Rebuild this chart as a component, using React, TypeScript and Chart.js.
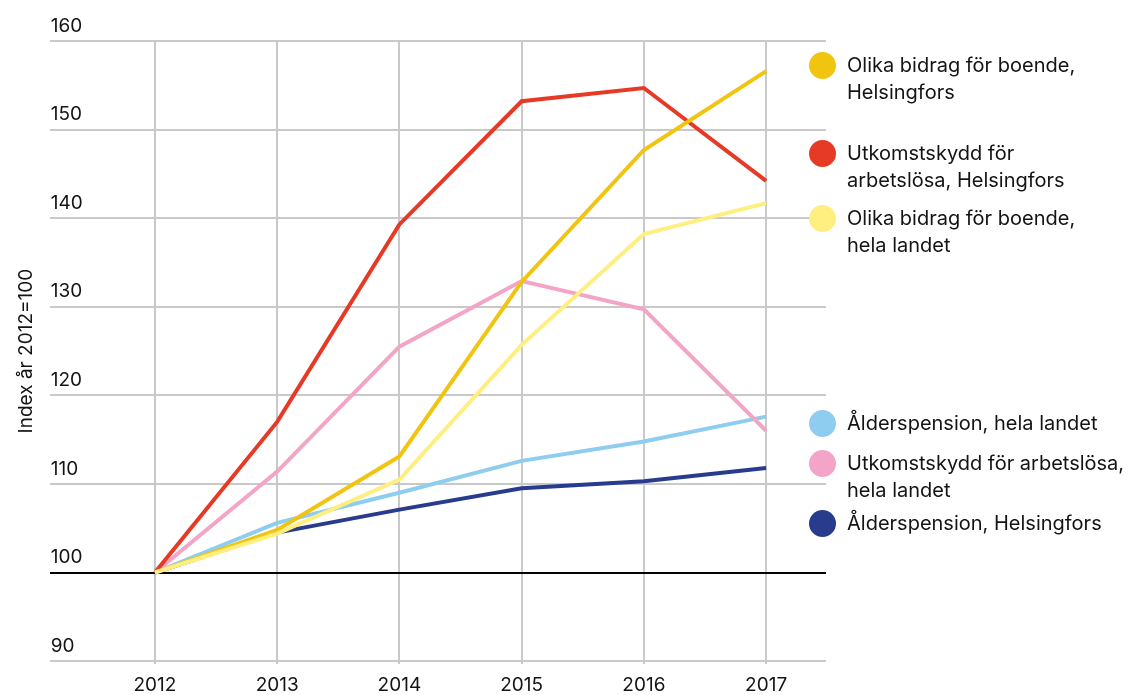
import React, { useEffect, useRef } from "react";
import { Chart, registerables } from "chart.js";

Chart.register(...registerables);

const years = [2012, 2013, 2014, 2015, 2016, 2017];
const yTicks = [90, 100, 110, 120, 130, 140, 150, 160];

const bidragHelsingfors = [100, 104.8, 113.1, 132.8, 147.7, 156.6];
const utkomstHelsingfors = [100, 117.0, 139.3, 153.2, 154.7, 144.2];
const bidragHelaLandet = [100, 104.4, 110.5, 125.7, 138.2, 141.7];
const alderHelaLandet = [100, 105.6, 109.0, 112.6, 114.8, 117.6];
const utkomstHelaLandet = [100, 111.4, 125.5, 132.9, 129.7, 116.0];
const alderHelsingfors = [100, 104.5, 107.1, 109.5, 110.3, 111.8];

const FONT = "Inter, 'Noto Sans', sans-serif";
const TEXT = "#141414";

const series = [
  { label: "Olika bidrag för boende, Helsingfors", lines: ["Olika bidrag för boende,", "Helsingfors"], data: bidragHelsingfors, color: "#F1C40F", order: 2, legendY: 65 },
  { label: "Utkomstskydd för arbetslösa, Helsingfors", lines: ["Utkomstskydd för", "arbetslösa, Helsingfors"], data: utkomstHelsingfors, color: "#E63A27", order: 3, legendY: 153 },
  { label: "Olika bidrag för boende, hela landet", lines: ["Olika bidrag för boende,", "hela landet"], data: bidragHelaLandet, color: "#FFEE80", order: 1, legendY: 218 },
  { label: "Ålderspension, hela landet", lines: ["Ålderspension, hela landet"], data: alderHelaLandet, color: "#8ECDEF", order: 5, legendY: 423 },
  { label: "Utkomstskydd för arbetslösa, hela landet", lines: ["Utkomstskydd för arbetslösa,", "hela landet"], data: utkomstHelaLandet, color: "#F3A5C8", order: 4, legendY: 463 },
  { label: "Ålderspension, Helsingfors", lines: ["Ålderspension, Helsingfors"], data: alderHelsingfors, color: "#283B8D", order: 6, legendY: 523 },
];

export default function App() {
  const canvasRef = useRef<HTMLCanvasElement | null>(null);

  useEffect(() => {
    if (!canvasRef.current) return;
    const chart = new Chart(canvasRef.current, {
      type: "line",
      data: {
        datasets: series.map((s) => ({
          label: s.label,
          data: s.data.map((v, i) => ({ x: years[i], y: v })),
          borderColor: s.color,
          backgroundColor: s.color,
          borderWidth: 4,
          pointRadius: 0,
          tension: 0,
          order: s.order,
          borderCapStyle: "butt" as const,
          borderJoinStyle: "miter" as const,
        })),
      },
      options: {
        animation: false,
        responsive: false,
        maintainAspectRatio: false,
        layout: { padding: { left: 15, top: 41, right: 314, bottom: 0 } },
        plugins: { legend: { display: false }, tooltip: { enabled: false } },
        scales: {
          x: {
            type: "linear",
            min: 2011.14,
            max: 2017.49,
            afterBuildTicks: (scale: any) => {
              scale.ticks = years.map((v) => ({ value: v }));
            },
            border: { display: false },
            grid: { color: "#c9c9c9", lineWidth: 2, tickLength: 3, drawOnChartArea: true },
            ticks: {
              color: TEXT,
              font: { family: FONT, size: 19, lineHeight: 1.1 },
              padding: 11,
              maxRotation: 0,
              autoSkip: false,
              callback: (v: any) => String(v),
            },
          },
          y: {
            min: 90,
            max: 160,
            afterBuildTicks: (scale: any) => {
              scale.ticks = yTicks.map((v) => ({ value: v }));
            },
            border: { display: false },
            grid: {
              drawTicks: false,
              color: (ctx: any) => (ctx.tick && ctx.tick.value === 100 ? "#000000" : "#c9c9c9"),
              lineWidth: 2,
            },
            ticks: {
              mirror: true,
              labelOffset: -15,
              padding: 1,
              color: TEXT,
              font: { family: FONT, size: 19 },
              callback: (v: any) => String(v),
            },
            title: {
              display: true,
              text: "Index år 2012=100",
              color: TEXT,
              font: { family: FONT, size: 19, lineHeight: 1.2 },
              padding: { top: 0, bottom: 10 },
            },
          },
        },
      },
    });
    return () => chart.destroy();
  }, []);

  return (
    <div style={{ position: "absolute", left: 0, top: 0, width: 1140, height: 695, background: "#fff", overflow: "hidden" }}>
      <canvas ref={canvasRef} width={1140} height={707} style={{ position: "absolute", left: 0, top: 0, width: 1140, height: 707 }} />
      {series.map((s) => (
        <div key={s.label}>
          <div
            style={{
              position: "absolute",
              left: 822 - 13.5,
              top: s.legendY - 13.5,
              width: 27,
              height: 27,
              borderRadius: "50%",
              background: s.color,
            }}
          />
          <div
            style={{
              position: "absolute",
              left: 847,
              top: s.legendY - 13.5,
              fontFamily: FONT,
              fontSize: 20,
              lineHeight: "27px",
              color: TEXT,
              whiteSpace: "nowrap",
            }}
          >
            {s.lines.map((l, i) => (
              <div key={i}>{l}</div>
            ))}
          </div>
        </div>
      ))}
    </div>
  );
}
